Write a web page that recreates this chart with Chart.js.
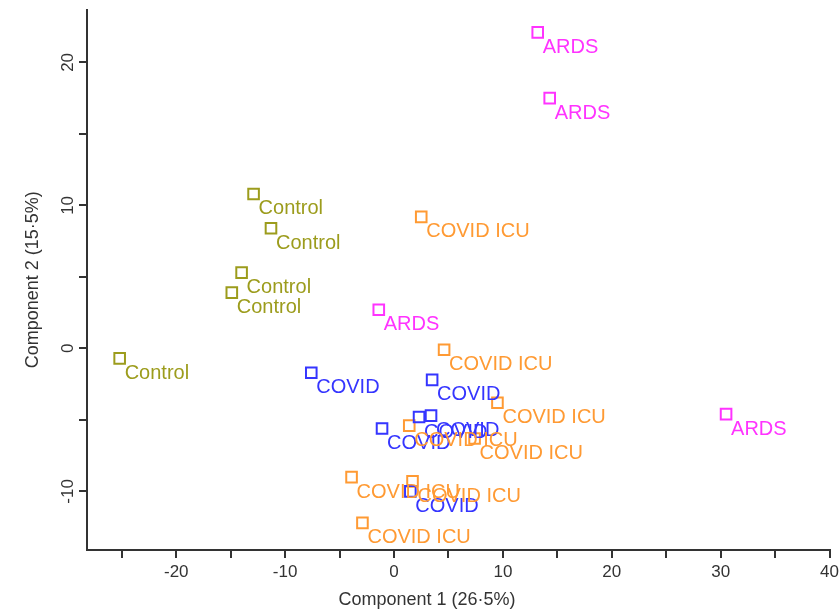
<!DOCTYPE html>
<html>
<head>
<meta charset="utf-8">
<script src="https://cdn.jsdelivr.net/npm/chart.js@4.4.1/dist/chart.umd.min.js"></script>
<style>
  html, body { margin: 0; padding: 0; background: #fff; }
</style>
</head>
<body>
<canvas id="pcaChart" width="839" height="615"></canvas>
<script>
// score plot values (component 1, component 2)
const ardsX = [13.2, 14.3, -1.4, 30.5];
const ardsY = [22.1, 17.5, 2.7, -4.6];

const controlX = [-12.9, -11.3, -14.0, -14.9, -25.2];
const controlY = [10.8, 8.4, 5.3, 3.9, -0.7];

const covidX = [-7.6, 3.5, -1.1, 2.3, 3.4, 1.5];
const covidY = [-1.7, -2.2, -5.6, -4.8, -4.7, -10.0];

const icuX = [2.5, 4.6, 9.5, 1.4, 7.4, -3.9, 1.7, -2.9];
const icuY = [9.2, -0.1, -3.8, -5.4, -6.3, -9.0, -9.3, -12.2];

// tick marks every 5, labels only on multiples of 10
const xTicks = [-25, -20, -15, -10, -5, 0, 5, 10, 15, 20, 25, 30, 35, 40];
const yTicks = [-10, -5, 0, 5, 10, 15, 20];

const xTitle = 'Component 1 (26·5%)';
const yTitle = 'Component 2 (15·5%)';

const toPoints = (xs, ys) => xs.map((x, i) => ({ x: x, y: ys[i] }));

const font = '"Liberation Sans", Arial, sans-serif';
const axisColor = '#333';

function makeSet(label, xs, ys, color) {
  return {
    label: label,
    data: toPoints(xs, ys),
    borderColor: color,
    backgroundColor: 'rgba(0,0,0,0)',
    pointStyle: 'rect',
    pointRadius: 7.5,
    pointHoverRadius: 7.5,
    pointBorderWidth: 2,
    showLine: false
  };
}

const useTicks = values => scale => {
  scale.ticks = values.map(v => ({ value: v }));
};

// point names, rotated y tick labels and the two axis titles
const textPlugin = {
  id: 'pcaText',
  afterDatasetsDraw(chart) {
    const ctx = chart.ctx;
    ctx.save();
    ctx.font = '20px ' + font;
    ctx.textAlign = 'left';
    ctx.textBaseline = 'middle';
    chart.data.datasets.forEach((ds, i) => {
      ctx.fillStyle = ds.borderColor;
      chart.getDatasetMeta(i).data.forEach(pt => {
        ctx.fillText(ds.label, pt.x + 5, pt.y + 15);
      });
    });
    ctx.restore();
  },
  afterDraw(chart) {
    const ctx = chart.ctx;
    const area = chart.chartArea;
    const yScale = chart.scales.y;
    ctx.save();
    ctx.fillStyle = axisColor;
    ctx.textAlign = 'center';
    ctx.textBaseline = 'middle';

    ctx.font = '17px ' + font;
    yScale.ticks.forEach(t => {
      if (t.value % 10 !== 0) return;
      ctx.save();
      ctx.translate(area.left - 19, yScale.getPixelForValue(t.value));
      ctx.rotate(-Math.PI / 2);
      ctx.fillText(String(t.value), 0, 0);
      ctx.restore();
    });

    ctx.font = '18px ' + font;
    ctx.fillText(xTitle, area.left + 340, area.bottom + 50);

    ctx.save();
    ctx.translate(area.left - 54, (area.top + area.bottom) / 2);
    ctx.rotate(-Math.PI / 2);
    ctx.fillText(yTitle, 0, 0);
    ctx.restore();

    ctx.restore();
  }
};

new Chart(document.getElementById('pcaChart'), {
  type: 'scatter',
  data: {
    datasets: [
      makeSet('ARDS', ardsX, ardsY, '#ff33ff'),
      makeSet('Control', controlX, controlY, '#9c9c1c'),
      makeSet('COVID', covidX, covidY, '#3535ff'),
      makeSet('COVID ICU', icuX, icuY, '#ff9a33')
    ]
  },
  options: {
    responsive: false,
    animation: false,
    devicePixelRatio: 1,
    layout: { padding: { left: 0, right: 6, top: 8, bottom: 0 } },
    plugins: {
      legend: { display: false },
      tooltip: { enabled: false }
    },
    scales: {
      x: {
        type: 'linear',
        min: -28.2,
        max: 40,
        afterBuildTicks: useTicks(xTicks),
        afterFit: s => { s.height = 65; s.paddingLeft = 0; s.paddingRight = 0; },
        border: { display: true, color: axisColor, width: 2 },
        grid: { drawOnChartArea: false, drawTicks: true, tickLength: 8, color: axisColor, lineWidth: 2 },
        ticks: {
          autoSkip: false,
          maxRotation: 0,
          padding: 4,
          color: axisColor,
          font: { size: 17, family: font },
          callback: v => (v % 10 === 0 ? String(v) : '')
        }
      },
      y: {
        type: 'linear',
        min: -14.1,
        max: 23.7,
        afterBuildTicks: useTicks(yTicks),
        afterFit: s => { s.width = 87; s.paddingTop = 0; s.paddingBottom = 0; },
        border: { display: true, color: axisColor, width: 2 },
        grid: { drawOnChartArea: false, drawTicks: true, tickLength: 8, color: axisColor, lineWidth: 2 },
        ticks: {
          autoSkip: false,
          color: 'rgba(0,0,0,0)',
          font: { size: 17, family: font },
          callback: v => (v % 10 === 0 ? String(v) : '')
        }
      }
    }
  },
  plugins: [textPlugin]
});
</script>
</body>
</html>
